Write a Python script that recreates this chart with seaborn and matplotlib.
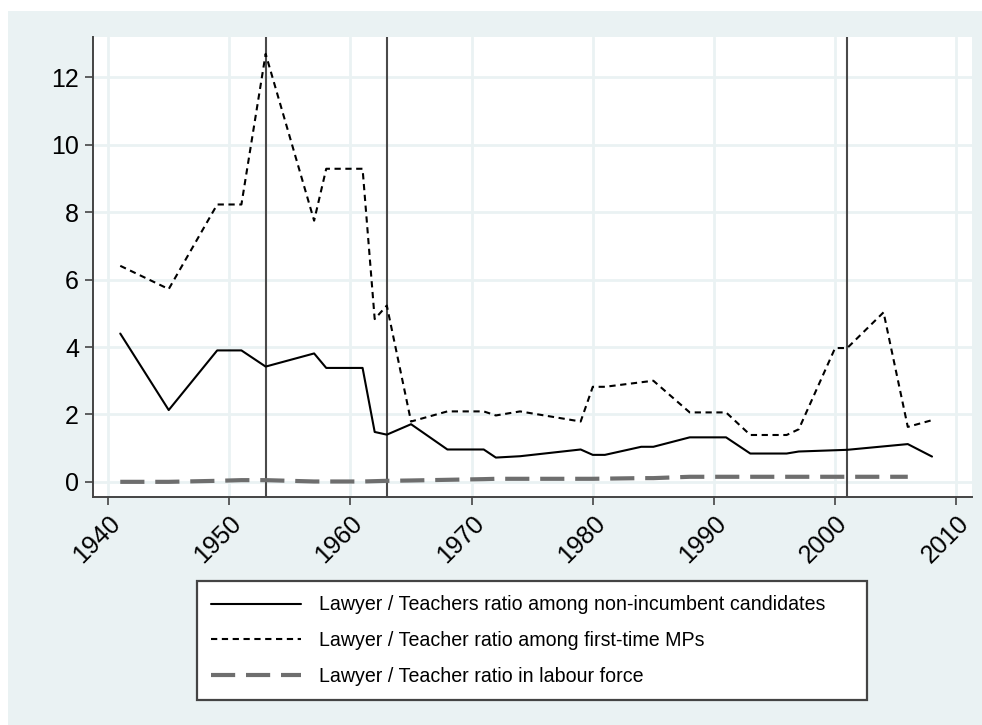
import matplotlib
matplotlib.use("Agg")
import matplotlib.pyplot as plt
import seaborn as sns
from matplotlib.patches import Rectangle

# values
years_cand = [1941, 1945, 1949, 1951, 1953, 1957, 1958, 1961, 1962, 1963, 1965,
              1968, 1971, 1972, 1974, 1979, 1980, 1981, 1984, 1985, 1988, 1991,
              1993, 1996, 1997, 2001, 2006, 2008]
ratio_cand = [4.40, 2.13, 3.90, 3.90, 3.42, 3.81, 3.38, 3.38, 1.48, 1.40, 1.71,
              0.96, 0.96, 0.72, 0.76, 0.96, 0.80, 0.80, 1.04, 1.04, 1.32, 1.32,
              0.84, 0.84, 0.90, 0.95, 1.12, 0.75]

years_mps = [1941, 1945, 1949, 1951, 1953, 1957, 1958, 1961, 1962, 1963, 1965,
             1968, 1971, 1972, 1974, 1979, 1980, 1981, 1985, 1988, 1991, 1993,
             1996, 1997, 2000, 2001, 2004, 2006, 2008]
ratio_mps = [6.41, 5.72, 8.23, 8.23, 12.70, 7.75, 9.29, 9.29, 4.83, 5.23, 1.79,
             2.09, 2.09, 1.97, 2.09, 1.79, 2.82, 2.82, 3.00, 2.06, 2.06, 1.39,
             1.39, 1.56, 3.97, 3.97, 5.03, 1.63, 1.83]

years_lab = [1941, 1945, 1949, 1951, 1953, 1957, 1958, 1961, 1962, 1963, 1965,
             1968, 1971, 1972, 1974, 1979, 1980, 1984, 1985, 1988, 1993, 1997,
             2000, 2004, 2006]
ratio_lab = [0.00, 0.00, 0.03, 0.05, 0.05, 0.01, 0.01, 0.01, 0.02, 0.03, 0.04,
             0.06, 0.08, 0.09, 0.09, 0.09, 0.09, 0.11, 0.11, 0.15, 0.15, 0.15,
             0.15, 0.15, 0.15]

event_years = [1953, 1963, 2001]

labels = ["Lawyer / Teachers ratio among non-incumbent candidates",
          "Lawyer / Teacher ratio among first-time MPs",
          "Lawyer / Teacher ratio in labour force"]

sns.set_style("white")
plt.rcParams['font.family'] = ['Liberation Sans', 'DejaVu Sans']

bg = '#eaf2f3'
fig = plt.figure(figsize=(9.82, 7.25), dpi=100)
fig.patch.set_facecolor('white')
fig.patches.append(Rectangle((8 / 982, 0), 1, 1 - 11 / 725, transform=fig.transFigure,
                             facecolor=bg, edgecolor='none', zorder=-10))

ax = fig.add_axes([93 / 982, 1 - 497 / 725, (972 - 93) / 982, (497 - 37) / 725])
ax.set_facecolor('white')

sns.lineplot(x=years_cand, y=ratio_cand, ax=ax, color='black', lw=1.5,
             label=labels[0])
sns.lineplot(x=years_mps, y=ratio_mps, ax=ax, color='black', lw=1.5,
             label=labels[1])
ax.lines[-1].set_dashes([3, 2.2])
sns.lineplot(x=years_lab, y=ratio_lab, ax=ax, color='#6e6e6e', lw=3.0,
             label=labels[2])
ax.lines[-1].set_dashes([5.8, 2.6])

for yr in event_years:
    ax.axvline(yr, color='#4a4a4a', lw=1.5, zorder=1)

ax.set_xlim(1938.75, 2011.3)
ax.set_ylim(-0.45, 13.2)
ax.set_xticks(range(1940, 2011, 10))
ax.set_yticks(range(0, 13, 2))
ax.grid(True, color=bg, lw=2)
ax.set_axisbelow(True)
for s in ['top', 'right']:
    ax.spines[s].set_visible(False)
for s in ['left', 'bottom']:
    ax.spines[s].set_color('#444444')
    ax.spines[s].set_linewidth(1.4)
ax.tick_params(axis='both', which='major', direction='out', length=6, width=1.2,
               color='#444444', labelcolor='black', labelsize=18, pad=4,
               left=True, bottom=True)
plt.setp(ax.get_xticklabels(), rotation=45, ha='right', rotation_mode='anchor')
ax.set_xlabel('')
ax.set_ylabel('')

handles, labs = ax.get_legend_handles_labels()
ax.get_legend().remove()
leg = fig.legend(handles, labs, loc='upper left',
                 bbox_to_anchor=(197 / 982, 1 - 582 / 725, (867 - 197) / 982, 0.001),
                 mode='expand', frameon=True, fancybox=False, framealpha=1,
                 fontsize=14.1, handlelength=4.6, handletextpad=0.9,
                 labelspacing=0.85, borderpad=0.72, borderaxespad=0)
for t in leg.get_texts():
    t.set_color('black')
leg.get_frame().set_edgecolor('#444444')
leg.get_frame().set_linewidth(1.6)
leg.get_frame().set_facecolor('white')

fig.savefig('out.png', dpi=100, facecolor=fig.get_facecolor())
